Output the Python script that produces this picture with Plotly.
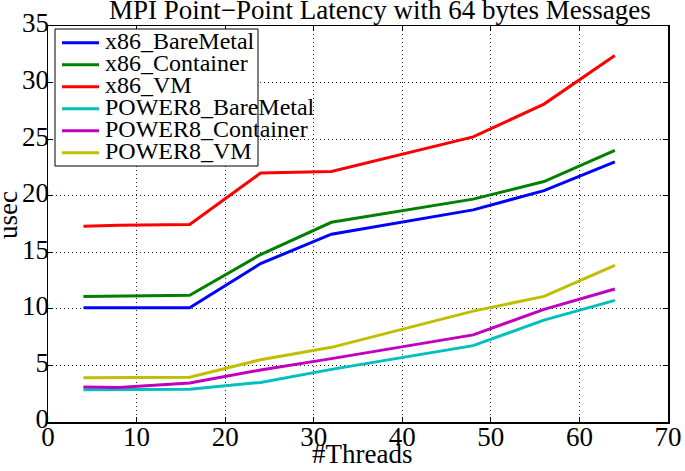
import plotly.graph_objects as go

threads = [4, 8, 16, 24, 32, 48, 56, 64]
series_names = ["x86_BareMetal", "x86_Container", "x86_VM",
                "POWER8_BareMetal", "POWER8_Container", "POWER8_VM"]
x86_baremetal = [10.1, 10.1, 10.1, 14.0, 16.6, 18.75, 20.45, 23.0]
x86_container = [11.1, 11.15, 11.2, 14.8, 17.65, 19.7, 21.25, 24.0]
x86_vm = [17.3, 17.4, 17.45, 22.0, 22.15, 25.2, 28.1, 32.4]
power8_baremetal = [2.85, 2.85, 2.9, 3.5, 4.65, 6.75, 9.0, 10.75]
power8_container = [3.1, 3.05, 3.45, 4.6, 5.6, 7.7, 9.95, 11.75]
power8_vm = [3.9, 3.9, 3.95, 5.5, 6.6, 9.8, 11.1, 13.85]
colors = ["#0000ff", "#008000", "#ff0000", "#00bfbf", "#bf00bf", "#bfbf00"]
x_ticks = [0, 10, 20, 30, 40, 50, 60, 70]
y_ticks = [0, 5, 10, 15, 20, 25, 30, 35]

FONT = "Liberation Serif"

# plot-area pixel geometry
L, R, T, B = 48, 668, 26, 422


def px(x):
    return (x - L) / (R - L)


def py(y):
    return (B - y) / (B - T)


fig = go.Figure()
all_vals = [x86_baremetal, x86_container, x86_vm,
            power8_baremetal, power8_container, power8_vm]
for name, vals, col in zip(series_names, all_vals, colors):
    fig.add_trace(go.Scatter(x=threads, y=vals, mode="lines", name=name,
                             line=dict(color=col, width=3)))

axis_common = dict(
    showline=True, linecolor="black", linewidth=1.5, mirror="allticks",
    ticks="inside", ticklen=5, tickcolor="black", tickwidth=1,
    showgrid=True, gridcolor="#222222", griddash="1px,3px", gridwidth=1,
    zeroline=False, automargin=False,
    tickfont=dict(family=FONT, size=27, color="black"),
)

shapes = [dict(type="rect", xref="paper", yref="paper",
               x0=px(55), x1=px(258), y0=py(166), y1=py(29),
               fillcolor="white", line=dict(color="black", width=1),
               layer="above")]
annotations = []
for i, (name, col) in enumerate(zip(series_names, colors)):
    yrow = 42.7 + i * 22.0
    shapes.append(dict(type="line", xref="paper", yref="paper",
                       x0=px(62), x1=px(99), y0=py(yrow), y1=py(yrow),
                       line=dict(color=col, width=3), layer="above"))
    annotations.append(dict(text=name, xref="paper", yref="paper",
                            x=px(103), y=py(yrow - 2),
                            xanchor="left", yanchor="middle", showarrow=False,
                            font=dict(family=FONT, size=24, color="black")))

annotations += [
    dict(text="MPI Point\u2212Point Latency with 64 bytes Messages",
         xref="paper", yref="paper", x=px(380), y=py(10),
         xanchor="center", yanchor="middle", showarrow=False,
         font=dict(family=FONT, size=27, color="black")),
    dict(text="#Threads", xref="paper", yref="paper", x=px(361.5), y=py(471),
         xanchor="center", yanchor="bottom", showarrow=False,
         font=dict(family=FONT, size=27, color="black")),
    dict(text="usec", xref="paper", yref="paper", x=px(8), y=py(215),
         textangle=-90, xanchor="center", yanchor="middle", showarrow=False,
         font=dict(family=FONT, size=27, color="black")),
]

fig.update_layout(
    width=685, height=471,
    margin=dict(l=L, r=685 - R, t=T, b=471 - B, autoexpand=False),
    paper_bgcolor="white", plot_bgcolor="white",
    font=dict(family=FONT, color="black"),
    showlegend=False,
    shapes=shapes,
    annotations=annotations,
)
fig.update_xaxes(range=[0, 70], tickvals=x_ticks, ticklabelstandoff=-10,
                 **axis_common)
fig.update_yaxes(range=[0, 35], tickvals=y_ticks, ticklabelstandoff=-8,
                 ticklabelshift=-3, **axis_common)

fig.write_html("out.html",
               config={"displayModeBar": False, "staticPlot": True},
               post_script="document.body.style.margin='0';"
                           "document.body.style.overflow='hidden';")
